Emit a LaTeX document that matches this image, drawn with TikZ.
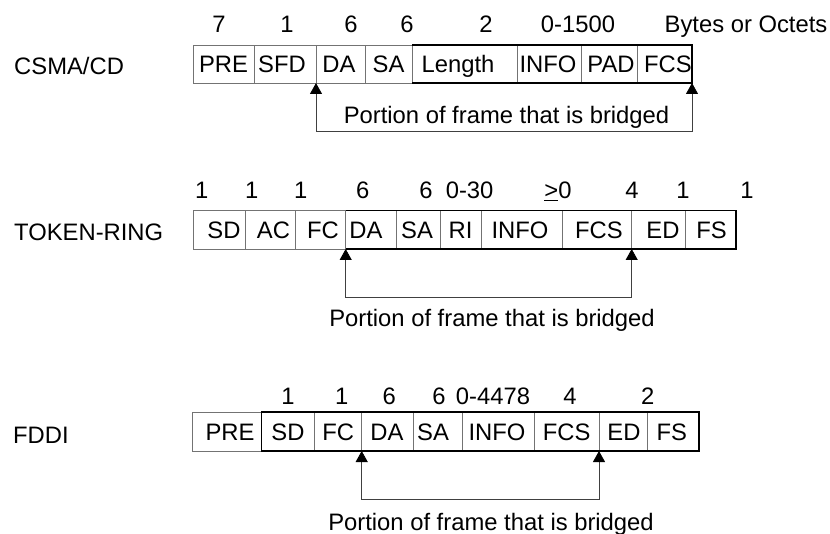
\documentclass[tikz,border=0pt]{standalone}
\usepackage{fontspec}
\setmainfont{Liberation Sans}
\usetikzlibrary{arrows.meta}
\begin{document}
\begin{tikzpicture}[x=1pt,y=-1pt,
  txt/.style={font=\fontsize{23.8}{28}\selectfont, inner sep=0pt, anchor=base, yshift=-8.5pt, text=black},
  ltxt/.style={txt, anchor=base west},
  cell/.style={draw=black!55, line width=0.8pt},
  outer/.style={draw=black, line width=1.5pt, line join=miter},
  brk/.style={draw=black!75, line width=0.8pt, {Triangle[length=11pt,width=12pt,color=black]}-{Triangle[length=11pt,width=12pt,color=black]}},
]
\useasboundingbox (0,0) rectangle (830,534);

% ---------------- CSMA/CD ----------------
\node[ltxt] (l1) at (14,66.5) {CSMA/CD};
\foreach \a/\b in {193/254,254/316,316/365,365/412,412/517,517/581,581/637,637/692}
  \draw[cell] (\a,45) rectangle (\b,83);
\draw[outer] (412,45) -- (692,45) -- (692,83) -- (412,83);
\node[txt] (c1pre) at (223.5,64) {PRE};
\node[txt] (c1sfd) at (282,64) {SFD};
\node[txt] (c1da) at (339,64) {DA};
\node[txt] (c1sa) at (388.5,64) {SA};
\node[txt] (c1len) at (458,64) {Length};
\node[txt] (c1info) at (548,64) {INFO};
\node[txt] (c1pad) at (611,64) {PAD};
\node[txt] (c1fcs) at (668,64) {FCS};
\node[txt] (n1a) at (219,24) {7};
\node[txt] (n1b) at (287,24) {1};
\node[txt] (n1c) at (351,24) {6};
\node[txt] (n1d) at (407,24) {6};
\node[txt] (n1e) at (486,24) {2};
\node[txt] (n1f) at (578,24) {0-1500};
\node[txt] (n1g) at (746,24) {Bytes or Octets};
\coordinate (a1l) at (316,83);
\coordinate (a1r) at (692,83);
\draw[brk] (a1l) -- ++(0,48) -| (a1r);
\node[txt] (p1) at (506.5,115) {Portion of frame that is bridged};

% ---------------- TOKEN-RING ----------------
\node[ltxt] (l2) at (14,232) {TOKEN-RING};
\foreach \a/\b in {193/245,245/295,295/345.7,345.7/396.5,396.5/440,440/481,481/562,562/631.7,631.7/685,685/736}
  \draw[cell] (\a,210.5) rectangle (\b,249);
\draw[outer] (345.7,210.5) -- (736,210.5) -- (736,249) -- (345.7,249);
\node[txt] (c2sd) at (224,230) {SD};
\node[txt] (c2ac) at (273.5,230) {AC};
\node[txt] (c2fc) at (323,230) {FC};
\node[txt] (c2da) at (366,230) {DA};
\node[txt] (c2sa) at (417,230) {SA};
\node[txt] (c2ri) at (460.5,230) {RI};
\node[txt] (c2info) at (520,230) {INFO};
\node[txt] (c2fcs) at (599,230) {FCS};
\node[txt] (c2ed) at (663,230) {ED};
\node[txt] (c2fs) at (711.5,230) {FS};
\node[txt] (n2a) at (201.7,190) {1};
\node[txt] (n2b) at (251.7,190) {1};
\node[txt] (n2c) at (300.7,190) {1};
\node[txt] (n2d) at (362.7,190) {6};
\node[txt] (n2e) at (426,190) {6};
\node[txt] (n2f) at (469.6,190) {0-30};
\node[txt] (n2g) at (558,190) {\underline{>}0};
\node[txt] (n2h) at (632,190) {4};
\node[txt] (n2i) at (683,190) {1};
\node[txt] (n2j) at (747,190) {1};
\coordinate (a2l) at (345.7,249);
\coordinate (a2r) at (631.7,249);
\draw[brk] (a2l) -- ++(0,48) -| (a2r);
\node[txt] (p2) at (492,318.5) {Portion of frame that is bridged};

% ---------------- FDDI ----------------
\node[ltxt] (l3) at (13,435) {FDDI};
\foreach \a/\b in {192.3/261.7,261.7/314.3,314.3/361.7,361.7/413.3,413.3/461.9,461.9/534.6,534.6/599,599/647.7,647.7/699}
  \draw[cell] (\a,412) rectangle (\b,451);
\draw[outer] (261.7,412) rectangle (699,451);
\node[txt] (c3pre) at (230,431.5) {PRE};
\node[txt] (c3sd) at (288,431.5) {SD};
\node[txt] (c3fc) at (338.3,431.5) {FC};
\node[txt] (c3da) at (387,431.5) {DA};
\node[txt] (c3sa) at (433,431.5) {SA};
\node[txt] (c3info) at (497,431.5) {INFO};
\node[txt] (c3fcs) at (566.7,431.5) {FCS};
\node[txt] (c3ed) at (624,431.5) {ED};
\node[txt] (c3fs) at (671.7,431.5) {FS};
\node[txt] (n3a) at (288,396.5) {1};
\node[txt] (n3b) at (341.7,396.5) {1};
\node[txt] (n3c) at (389.3,396.5) {6};
\node[txt] (n3d) at (439,396.5) {6};
\node[txt] (n3e) at (493,396.5) {0-4478};
\node[txt] (n3f) at (570,396.5) {4};
\node[txt] (n3g) at (647.7,396.5) {2};
\coordinate (a3l) at (361.7,451);
\coordinate (a3r) at (599,451);
\draw[brk] (a3l) -- ++(0,48) -| (a3r);
\node[txt] (p3) at (491,521.7) {Portion of frame that is bridged};
\end{tikzpicture}
\end{document}
